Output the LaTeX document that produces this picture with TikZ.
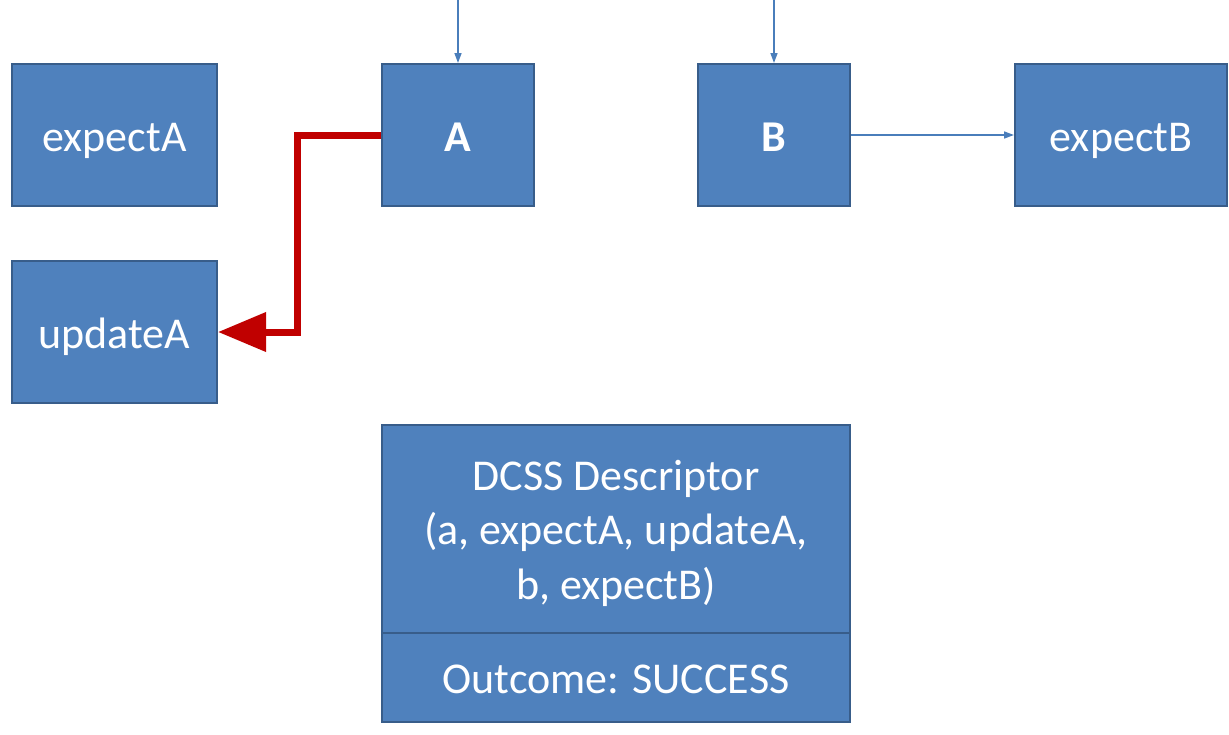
\documentclass[tikz,border=0pt]{standalone}
\usepackage{fontspec}
\setmainfont{Carlito}
\usetikzlibrary{calc}
\usetikzlibrary{arrows.meta}
\definecolor{caixa}{HTML}{4F81BD}
\definecolor{borda}{HTML}{385D8A}
\definecolor{seta}{HTML}{4A7EBB}
\definecolor{vermelho}{HTML}{C00000}
\tikzset{cell/.style={fill=caixa,draw=borda,line width=2pt,text=white,align=center,
	inner sep=0pt,minimum height=142pt,text height=33pt,text depth=1pt,
	font=\fontsize{44}{54.5}\selectfont}}
\begin{document}
\begin{tikzpicture}[x=1pt,y=-1pt,
											thin arrow/.style={seta,line width=1.5pt,-{Triangle[length=10pt,width=7pt]}},
											red arrow/.style={vermelho,line width=7pt,-{Triangle[length=48pt,width=38pt]}}]

		\useasboundingbox (0,0) rectangle (1229,734);

		% As caixas de cima
		\node [cell, minimum width=205pt] (expectA) at (114.5,135) {expectA};
		\node [cell, minimum width=152pt] (A) at (458,135) {\textbf{A}};
		\node [cell, minimum width=152pt] (B) at (774,135) {\textbf{B}};
		\node [cell, minimum width=212pt] (expectB) at (1121,135) {expectB};
		\node [cell, minimum width=205pt] (updateA) at (114.5,332) {updateA};

		% O descritor
		\node [cell, minimum width=468pt, minimum height=208pt,
			text height=150pt, text depth=10pt] (desc) at (616,529)
			{DCSS Descriptor\\(a, expectA, updateA,\\b, expectB)};
		\node [cell, minimum width=468pt, minimum height=89pt] (outcome) at (616,677.5)
			{Outcome: SUCCESS};

		% Flechas de entrada
		\coordinate (in A) at ($(A.north) + (0,-64)$);
		\coordinate (in B) at ($(B.north) + (0,-64)$);
		\draw [thin arrow] (in A) -- (A.north);
		\draw [thin arrow] (in B) -- (B.north);

		% Flecha de B para expectB
		\draw [thin arrow] (B.east) -- (expectB.west);

		% Flecha vermelha
		\draw [red arrow] (A.west) -- ++(-84,0) |- (updateA.east);

	\end{tikzpicture}
\end{document}
